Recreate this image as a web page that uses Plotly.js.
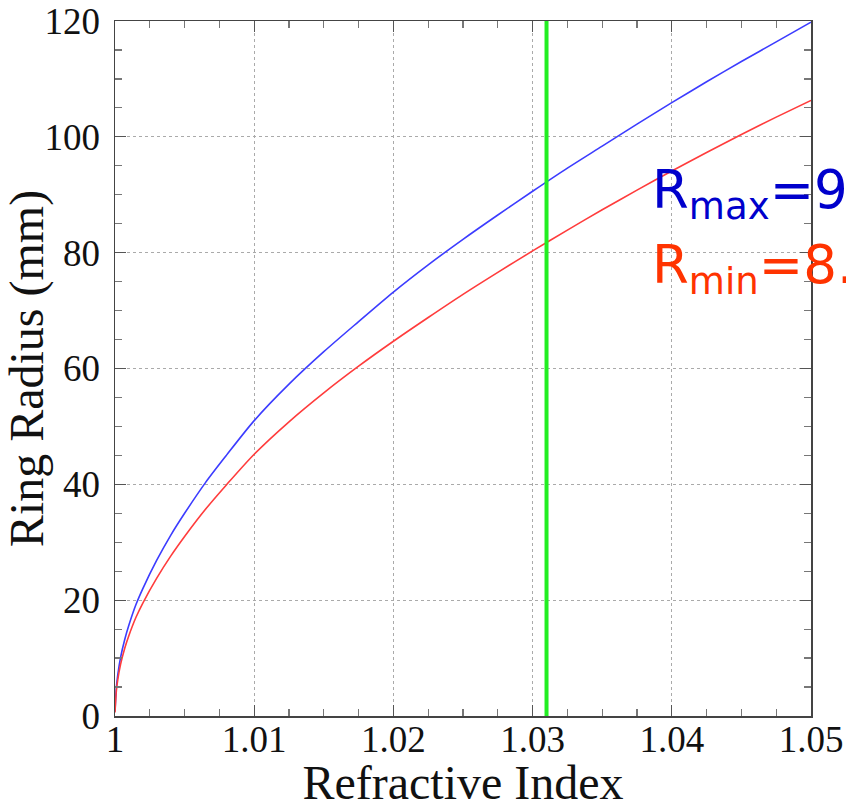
<!DOCTYPE html>
<html><head><meta charset="utf-8">
<script src="https://cdn.plot.ly/plotly-3.0.1.min.js"></script>
<style>html,body{margin:0;padding:0;background:#fff;overflow:hidden}</style>
</head><body><div id="chart" style="width:846px;height:809px"></div>
<script>
const refractiveIndex = [1.0, 1.0001, 1.0002, 1.0004, 1.0007, 1.001, 1.0015, 1.002, 1.003, 1.004, 1.005, 1.0065, 1.008, 1.01, 1.0125, 1.015, 1.0175, 1.02, 1.0225, 1.025, 1.0275, 1.03, 1.0325, 1.035, 1.0375, 1.04, 1.0425, 1.045, 1.0475, 1.05];
const ringRadiusMax = [0.8, 5.0, 7.1, 10.1, 13.2, 15.7, 19.2, 22.0, 26.9, 31.2, 35.0, 40.3, 45.0, 51.0, 57.3, 62.9, 68.1, 73.2, 77.9, 82.3, 86.5, 90.6, 94.6, 98.4, 102.2, 105.9, 109.5, 113.0, 116.4, 119.8];
const ringRadiusMin = [0.6, 4.4, 6.3, 8.9, 11.7, 13.9, 17.0, 19.5, 23.8, 27.6, 31.0, 35.7, 39.9, 45.2, 50.8, 55.8, 60.4, 64.7, 68.8, 72.8, 76.6, 80.3, 83.9, 87.4, 90.8, 94.1, 97.3, 100.4, 103.4, 106.3];
const markerIndex = [1.031, 1.031];
const markerRadius = [0, 120];
const xTickVals = [1, 1.01, 1.02, 1.03, 1.04, 1.05];
const xTickText = ['1', '1.01', '1.02', '1.03', '1.04', '1.05'];
const yTickVals = [0, 20, 40, 60, 80, 100, 120];
const yTickText = ['0', '20', '40', '60', '80', '100', '120'];
const labelMax = 'R<sub>max</sub>=9.';
const labelMin = 'R<sub>min</sub>=8.';

const serif = 'Liberation Serif, Times New Roman, serif';
const sans = 'DejaVu Sans, Verdana, sans-serif';

const traces = [
  {x: refractiveIndex, y: ringRadiusMax, mode: 'lines', line: {color: '#3c3cff', width: 1.6, shape: 'spline', smoothing: 0.8}, hoverinfo: 'skip'},
  {x: refractiveIndex, y: ringRadiusMin, mode: 'lines', line: {color: '#ff3c3c', width: 1.6, shape: 'spline', smoothing: 0.8}, hoverinfo: 'skip'},
  {x: markerIndex, y: markerRadius, mode: 'lines', line: {color: '#22ee22', width: 4}, hoverinfo: 'skip'}
];

const axisCommon = {
  showline: true, linecolor: '#444', linewidth: 1.5, mirror: 'ticks',
  ticks: 'inside', ticklen: 11, tickwidth: 1.2, tickcolor: '#555',
  showgrid: true, gridcolor: '#aaa', griddash: 'dot', gridwidth: 1,
  zeroline: false,
  tickfont: {family: serif, size: 37, color: '#111'}
};

const layout = {
  width: 846, height: 809,
  margin: {l: 115, r: 35, t: 21, b: 93},
  paper_bgcolor: '#fff', plot_bgcolor: '#fff',
  showlegend: false,
  xaxis: Object.assign({}, axisCommon, {
    range: [1, 1.05], tickvals: xTickVals, ticktext: xTickText,
    minor: {ticks: 'inside', ticklen: 7, tickcolor: '#777', dtick: 0.0025, showgrid: false},
    ticklabelstandoff: -10,
    title: {text: 'Refractive Index', font: {family: serif, size: 48, color: '#111'}, standoff: 4}
  }),
  yaxis: Object.assign({}, axisCommon, {
    range: [0, 120], tickvals: yTickVals, ticktext: yTickText,
    minor: {ticks: 'inside', ticklen: 7, tickcolor: '#777', dtick: 5, showgrid: false},
    ticklabelstandoff: 6,
    title: {text: 'Ring Radius (mm)', font: {family: serif, size: 48, color: '#111'}, standoff: 0}
  }),
  annotations: [
    {xref: 'x', yref: 'y', x: 1.0384, y: 84.0, xanchor: 'left', yanchor: 'bottom', showarrow: false,
     text: labelMax, font: {family: sans, size: 53, color: '#0000cc'}},
    {xref: 'x', yref: 'y', x: 1.0384, y: 71.0, xanchor: 'left', yanchor: 'bottom', showarrow: false,
     text: labelMin, font: {family: sans, size: 53, color: '#ff3300'}}
  ]
};

Plotly.newPlot('chart', traces, layout, {staticPlot: true, displayModeBar: false});
</script></body></html>
